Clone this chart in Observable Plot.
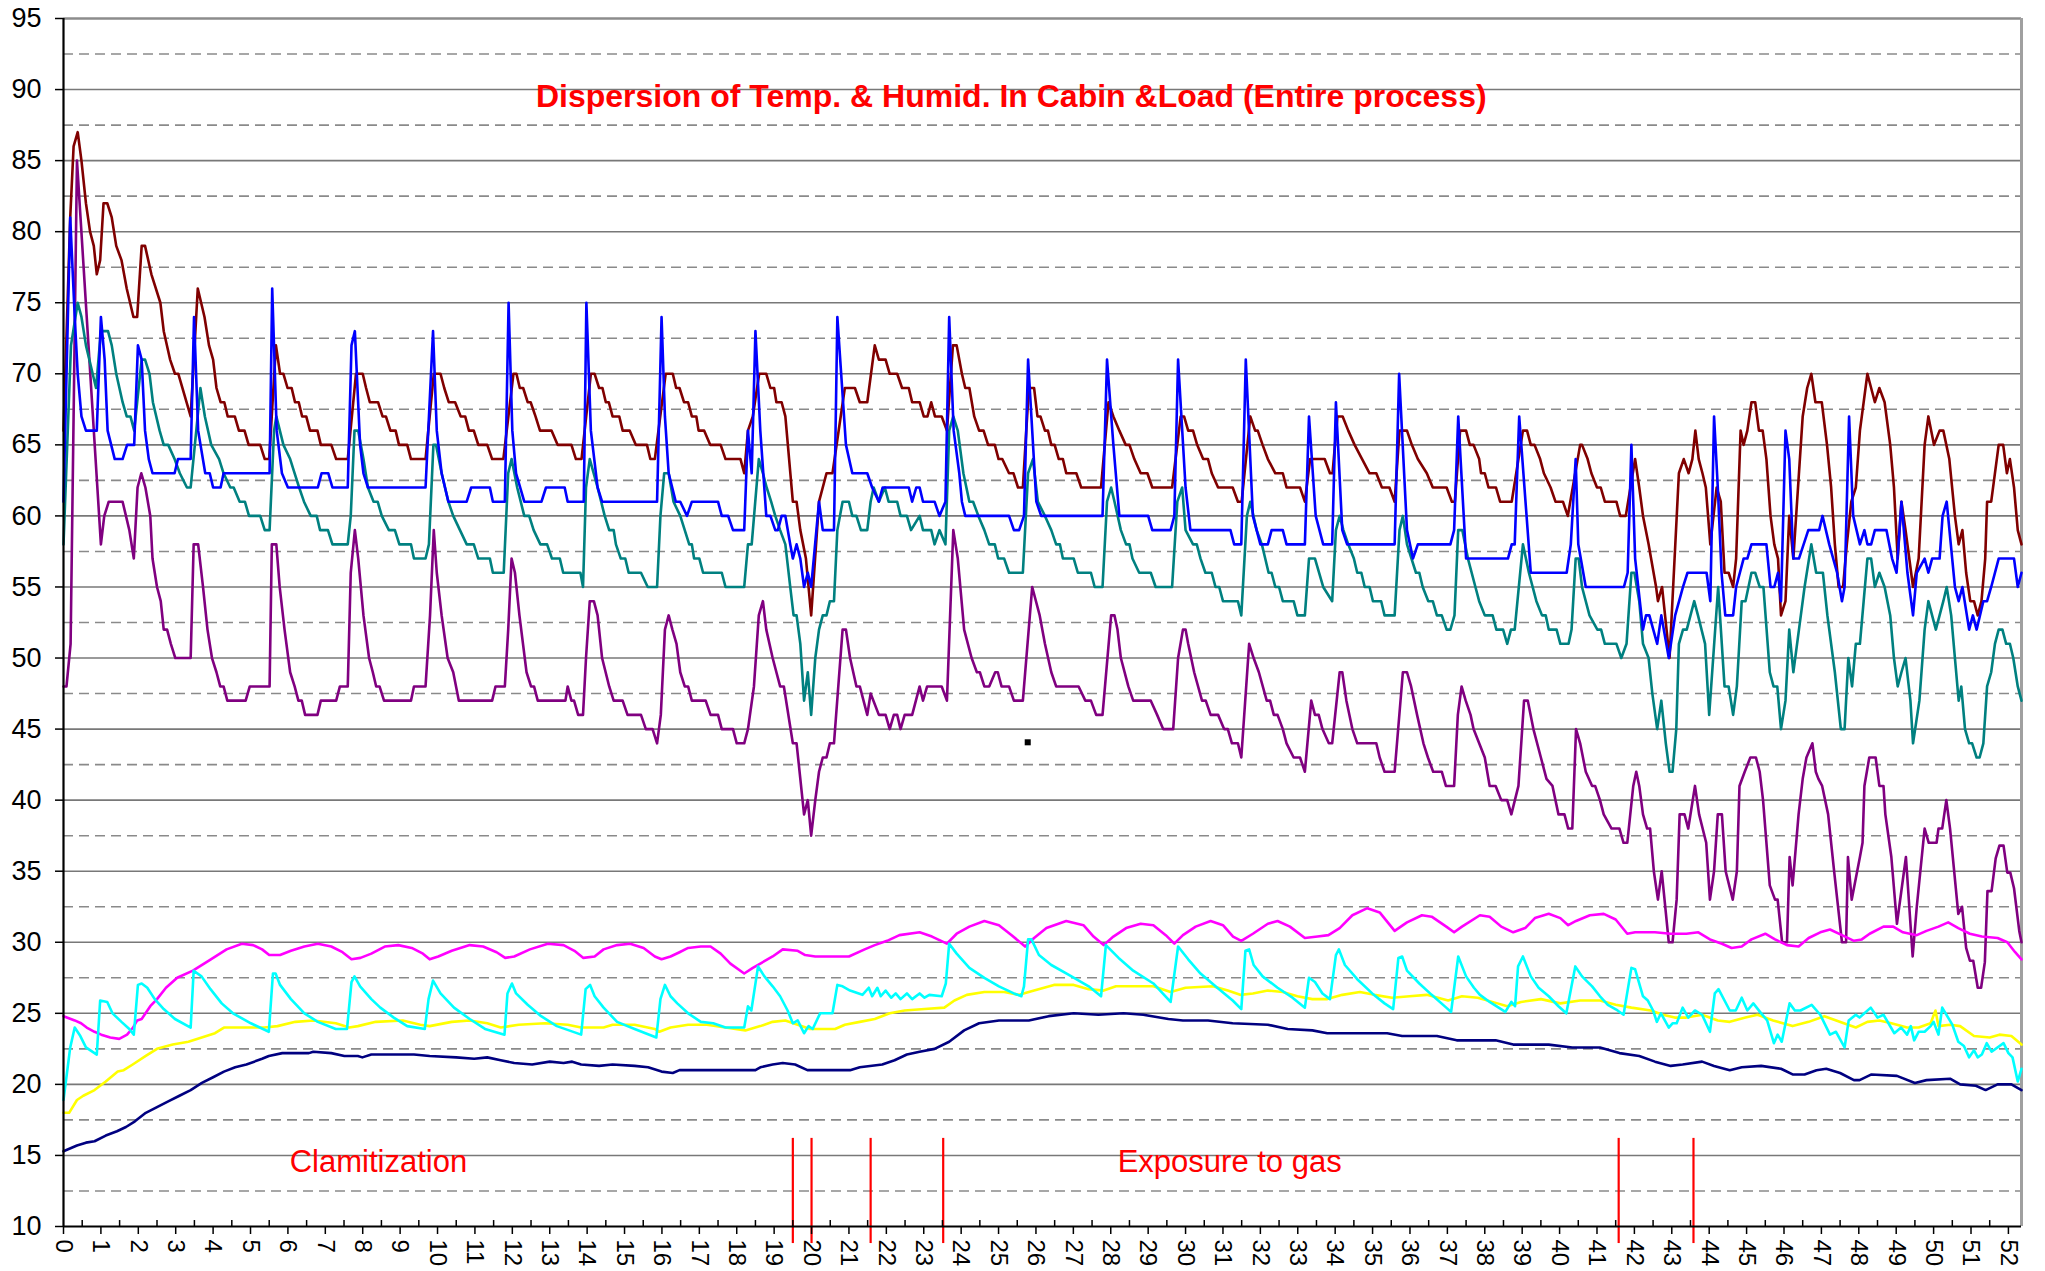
<!DOCTYPE html>
<html><head><meta charset="utf-8">
<script src="https://cdn.jsdelivr.net/npm/d3@7"></script>
<script src="https://cdn.jsdelivr.net/npm/@observablehq/plot@0.6"></script>
<style>html,body{margin:0;padding:0;background:#fff;} #chart svg{display:block}</style>
</head><body><div id="chart"></div>
<script>
const xTicks = d3.range(0, 53);
const yTicks = d3.range(10, 96, 5);
const yDashed = d3.range(12.5, 95, 5);
const xMinorTicks = d3.range(0.5, 52.5, 1);
const phaseLines = [19.5, 20.0, 21.58, 23.52, 41.58, 43.58];
const notes = [
  {text: "Dispersion of Temp. & Humid. In Cabin &Load (Entire process)", x: 25.34, y: 89.5, bold: true, size: 32},
  {text: "Clamitization", x: 8.42, y: 14.5, bold: false, size: 31},
  {text: "Exposure to gas", x: 31.18, y: 14.5, bold: false, size: 31}
];
const stray = [[25.78, 44.07]];

const red = [[0,66],[0.18,81],[0.27,86],[0.38,87],[0.48,85],[0.6,82],[0.71,80],[0.81,79],[0.89,77],[0.98,78],[1.07,82],[1.17,82],[1.29,81],[1.41,79],[1.55,78],[1.69,76],[1.87,74],[1.97,74],[2.09,79],[2.18,79],[2.35,77],[2.59,75],[2.68,73],[2.85,71],[2.98,70],[3.07,70],[3.4,67],[3.59,76],[3.77,74],[3.89,72],[4.0,71],[4.09,69],[4.2,68],[4.3,68],[4.39,67],[4.58,67],[4.69,66],[4.84,66],[4.95,65],[5.26,65],[5.38,64],[5.5,64],[5.68,72],[5.79,70],[5.88,70],[5.99,69],[6.1,69],[6.19,68],[6.29,68],[6.38,67],[6.49,67],[6.59,66],[6.79,66],[6.88,65],[7.16,65],[7.29,64],[7.6,64],[7.82,70],[8.0,70],[8.09,69],[8.19,68],[8.41,68],[8.53,67],[8.62,67],[8.74,66],[8.88,66],[8.97,65],[9.19,65],[9.29,64],[9.68,64],[9.9,70],[10.08,70],[10.18,69],[10.3,68],[10.47,68],[10.62,67],[10.74,67],[10.84,66],[10.97,66],[11.09,65],[11.33,65],[11.46,64],[11.76,64],[12.03,70],[12.11,70],[12.2,69],[12.29,69],[12.41,68],[12.49,68],[12.62,67],[12.74,66],[13.05,66],[13.21,65],[13.58,65],[13.7,64],[13.85,64],[14.1,70],[14.2,70],[14.32,69],[14.41,69],[14.5,68],[14.58,68],[14.68,67],[14.86,67],[14.95,66],[15.14,66],[15.3,65],[15.6,65],[15.69,64],[15.81,64],[16.1,70],[16.29,70],[16.38,69],[16.47,69],[16.59,68],[16.7,68],[16.8,67],[16.92,67],[16.98,66],[17.13,66],[17.29,65],[17.57,65],[17.7,64],[18.1,64],[18.2,63],[18.3,66],[18.43,67],[18.6,70],[18.79,70],[18.9,69],[19.0,69],[19.06,68],[19.2,68],[19.3,67],[19.5,61],[19.6,61],[19.7,59],[19.85,57],[19.99,53],[20.2,61],[20.4,63],[20.56,63],[20.89,69],[21.16,69],[21.29,68],[21.49,68],[21.69,72],[21.8,71],[21.98,71],[22.09,70],[22.29,70],[22.42,69],[22.6,69],[22.69,68],[22.89,68],[23.0,67],[23.1,67],[23.2,68],[23.3,67],[23.48,67],[23.62,66],[23.78,72],[23.88,72],[24.02,70],[24.11,69],[24.22,69],[24.35,67],[24.48,66],[24.6,66],[24.72,65],[24.9,65],[25.0,64],[25.1,64],[25.28,63],[25.4,63],[25.52,62],[25.65,62],[25.81,69],[25.95,69],[26.04,67],[26.12,67],[26.24,66],[26.32,66],[26.41,65],[26.5,65],[26.61,64],[26.72,64],[26.81,63],[27.08,63],[27.21,62],[27.74,62],[27.94,68],[28.07,67],[28.23,66],[28.4,65],[28.5,65],[28.63,64],[28.8,63],[28.98,63],[29.11,62],[29.64,62],[29.87,67],[29.96,67],[30.07,66],[30.2,66],[30.31,65],[30.47,64],[30.6,64],[30.7,63],[30.87,62],[31.26,62],[31.4,61],[31.5,61],[31.73,67],[31.86,66],[31.93,66],[32.06,65],[32.2,64],[32.4,63],[32.6,63],[32.7,62],[33.06,62],[33.19,61],[33.33,64],[33.72,64],[33.86,63],[33.93,63],[34.06,67],[34.2,67],[34.35,66],[34.52,65],[34.72,64],[34.92,63],[35.1,63],[35.25,62],[35.45,62],[35.59,61],[35.72,66],[35.92,66],[36.05,65],[36.21,64],[36.45,63],[36.61,62],[36.98,62],[37.12,61],[37.2,61],[37.34,66],[37.5,66],[37.6,65],[37.7,65],[37.85,64],[37.9,63],[38.0,63],[38.1,62],[38.3,62],[38.41,61],[38.72,61],[39.02,66],[39.13,66],[39.23,65],[39.33,65],[39.48,64],[39.58,63],[39.76,62],[39.89,61],[40.09,61],[40.22,60],[40.55,65],[40.6,65],[40.75,64],[40.85,63],[41.0,62],[41.1,62],[41.21,61],[41.52,61],[41.62,60],[41.77,60],[42.02,64],[42.13,62],[42.23,60],[42.38,58],[42.58,55],[42.63,54],[42.74,55],[42.94,50],[43.19,63],[43.32,64],[43.45,63],[43.55,64],[43.63,66],[43.72,64],[43.82,63],[43.91,62],[44.03,58],[44.2,62],[44.31,61],[44.41,56],[44.52,56],[44.64,55],[44.72,57],[44.84,66],[44.92,65],[45.02,66],[45.13,68],[45.23,68],[45.33,66],[45.43,66],[45.53,64],[45.64,60],[45.74,58],[45.84,57],[45.92,53],[46.04,54],[46.14,60],[46.25,57],[46.5,67],[46.62,69],[46.73,70],[46.84,68],[47.01,68],[47.15,65],[47.26,62],[47.36,58],[47.46,55],[47.58,55],[47.68,58],[47.8,61],[47.92,62],[48.03,66],[48.23,70],[48.43,68],[48.55,69],[48.69,68],[48.84,65],[48.94,62],[49.04,57],[49.14,61],[49.25,59],[49.45,55],[49.6,57],[49.76,65],[49.86,67],[50.01,65],[50.16,66],[50.26,66],[50.42,64],[50.57,60],[50.67,58],[50.77,59],[50.87,56],[50.98,54],[51.08,54],[51.18,53],[51.28,54],[51.38,57],[51.43,61],[51.54,61],[51.74,65],[51.86,65],[51.96,63],[52.04,64],[52.15,62],[52.25,59],[52.35,58]];

const blue = [[0,61],[0.18,81],[0.3,74],[0.38,70],[0.48,67],[0.6,66],[0.89,66],[1.0,74],[1.1,71],[1.18,66],[1.37,64],[1.58,64],[1.7,65],[1.89,65],[1.99,72],[2.09,71],[2.18,66],[2.28,64],[2.38,63],[2.97,63],[3.06,64],[3.4,64],[3.49,74],[3.6,66],[3.79,63],[3.91,63],[4.0,62],[4.2,62],[4.28,63],[5.51,63],[5.58,76],[5.7,66],[5.84,63],[6.0,62],[6.8,62],[6.9,63],[7.08,63],[7.19,62],[7.6,62],[7.7,72],[7.79,73],[7.93,65],[8.02,63],[8.14,62],[9.68,62],[9.88,73],[9.98,66],[10.11,63],[10.29,61],[10.78,61],[10.9,62],[11.4,62],[11.48,61],[11.8,61],[11.9,75],[12.0,66],[12.1,63],[12.32,61],[12.78,61],[12.9,62],[13.4,62],[13.48,61],[13.91,61],[13.98,75],[14.1,66],[14.28,62],[14.4,61],[15.87,61],[15.99,74],[16.08,67],[16.18,63],[16.37,61],[16.49,61],[16.67,60],[16.8,61],[17.5,61],[17.6,60],[17.77,60],[17.9,59],[18.2,59],[18.3,66],[18.4,63],[18.5,73],[18.63,66],[18.79,60],[18.9,60],[19.03,59],[19.1,59],[19.2,60],[19.3,60],[19.43,58],[19.5,57],[19.6,58],[19.7,57],[19.8,55],[19.9,56],[19.99,55],[20.2,61],[20.3,59],[20.6,59],[20.69,74],[20.92,65],[21.09,63],[21.49,63],[21.62,62],[21.8,61],[21.9,62],[22.6,62],[22.69,61],[22.8,62],[22.89,62],[22.98,61],[23.29,61],[23.42,60],[23.58,61],[23.68,74],[23.8,66],[23.95,63],[24.02,61],[24.11,60],[25.28,60],[25.41,59],[25.55,59],[25.68,60],[25.79,71],[26.01,61],[26.14,60],[27.78,60],[27.9,71],[28.07,65],[28.23,60],[29.0,60],[29.11,59],[29.6,59],[29.7,60],[29.8,71],[30.0,62],[30.13,59],[31.2,59],[31.3,58],[31.49,58],[31.61,71],[31.8,60],[32.0,58],[32.2,58],[32.3,59],[32.6,59],[32.7,58],[33.19,58],[33.3,67],[33.48,60],[33.68,58],[33.92,58],[34.02,68],[34.19,59],[34.32,58],[35.59,58],[35.71,70],[35.92,59],[36.08,57],[36.21,58],[37.08,58],[37.18,59],[37.29,67],[37.5,57],[38.62,57],[38.72,58],[38.8,58],[38.92,67],[39.23,56],[40.19,56],[40.3,58],[40.43,64],[40.5,58],[40.7,55],[41.72,55],[41.82,56],[41.92,65],[42.02,57],[42.23,52],[42.31,53],[42.4,53],[42.61,51],[42.72,53],[42.92,50],[43.09,53],[43.3,55],[43.42,56],[43.93,56],[44.03,54],[44.13,67],[44.23,62],[44.33,56],[44.43,53],[44.64,53],[44.72,55],[44.92,57],[45.02,57],[45.13,58],[45.53,58],[45.64,55],[45.74,55],[45.84,56],[45.92,54],[46.04,66],[46.14,64],[46.25,57],[46.4,57],[46.65,59],[46.94,59],[47.03,60],[47.21,58],[47.42,56],[47.55,54],[47.62,55],[47.74,67],[47.85,60],[48.03,58],[48.15,59],[48.23,58],[48.33,58],[48.43,59],[48.74,59],[48.89,57],[49.01,56],[49.14,61],[49.3,56],[49.45,53],[49.55,56],[49.76,57],[49.86,56],[49.96,57],[50.16,57],[50.24,60],[50.35,61],[50.57,55],[50.67,54],[50.77,55],[50.95,52],[51.05,53],[51.15,52],[51.33,54],[51.43,54],[51.54,55],[51.74,57],[52.15,57],[52.25,55],[52.35,56]];

const teal = [[0,58],[0.1,65],[0.2,72],[0.38,75],[0.48,74],[0.6,72],[0.78,70],[0.87,69],[1.0,73],[1.19,73],[1.29,72],[1.41,70],[1.58,68],[1.69,67],[1.79,67],[1.89,66],[1.97,68],[2.09,71],[2.18,71],[2.3,70],[2.39,68],[2.57,66],[2.68,65],[2.8,65],[2.97,64],[3.11,63],[3.3,62],[3.4,62],[3.55,66],[3.66,69],[3.78,67],[3.95,65],[4.16,64],[4.28,63],[4.46,62],[4.55,62],[4.71,61],[4.85,61],[4.96,60],[5.26,60],[5.38,59],[5.51,59],[5.63,66],[5.69,67],[5.88,65],[6.06,64],[6.18,63],[6.3,62],[6.43,61],[6.61,60],[6.77,60],[6.86,59],[7.07,59],[7.19,58],[7.6,58],[7.68,60],[7.78,66],[7.88,66],[8.02,64],[8.14,62],[8.29,61],[8.4,61],[8.51,60],[8.7,59],[8.86,59],[8.98,58],[9.29,58],[9.37,57],[9.68,57],[9.77,58],[9.89,65],[9.96,65],[10.11,63],[10.29,61],[10.42,60],[10.6,59],[10.78,58],[10.97,58],[11.09,57],[11.4,57],[11.48,56],[11.77,56],[11.89,63],[11.98,64],[12.13,62],[12.32,60],[12.45,60],[12.57,59],[12.75,58],[12.93,58],[13.06,57],[13.27,57],[13.36,56],[13.82,56],[13.89,55],[13.97,62],[14.07,64],[14.28,62],[14.47,60],[14.59,59],[14.71,59],[14.77,58],[14.9,57],[15.02,57],[15.11,56],[15.44,56],[15.62,55],[15.87,55],[15.96,60],[16.06,63],[16.18,63],[16.31,61],[16.49,60],[16.61,59],[16.73,58],[16.8,58],[16.86,57],[17.0,57],[17.1,56],[17.6,56],[17.7,55],[18.2,55],[18.3,58],[18.4,58],[18.59,64],[18.7,63],[18.8,62],[18.92,61],[19.03,60],[19.16,59],[19.3,58],[19.43,55],[19.52,53],[19.6,53],[19.7,51],[19.8,47],[19.9,49],[19.99,46],[20.1,50],[20.2,52],[20.3,53],[20.4,53],[20.49,54],[20.6,54],[20.69,59],[20.83,61],[21.0,61],[21.09,60],[21.2,60],[21.32,59],[21.49,59],[21.58,61],[21.66,62],[21.8,61],[21.96,62],[22.06,61],[22.29,61],[22.38,60],[22.55,60],[22.66,59],[22.89,60],[22.98,59],[23.2,59],[23.29,58],[23.42,59],[23.58,58],[23.68,66],[23.79,67],[23.91,66],[24.06,63],[24.22,61],[24.32,61],[24.46,60],[24.62,59],[24.75,58],[24.9,58],[24.99,57],[25.15,57],[25.28,56],[25.65,56],[25.79,63],[25.92,64],[26.05,61],[26.24,60],[26.41,59],[26.54,58],[26.64,58],[26.72,57],[27.01,57],[27.12,56],[27.47,56],[27.57,55],[27.78,55],[27.9,61],[28.01,62],[28.1,61],[28.27,59],[28.41,58],[28.5,58],[28.58,57],[28.76,56],[29.07,56],[29.2,55],[29.64,55],[29.78,61],[29.91,62],[30.0,59],[30.2,58],[30.3,58],[30.4,57],[30.53,56],[30.7,56],[30.8,55],[30.9,55],[31.0,54],[31.4,54],[31.49,53],[31.64,60],[31.73,61],[31.9,59],[32.04,58],[32.13,57],[32.22,56],[32.3,56],[32.4,55],[32.5,55],[32.6,54],[32.89,54],[32.99,53],[33.19,53],[33.3,57],[33.46,57],[33.68,55],[33.92,54],[34.02,59],[34.12,60],[34.22,59],[34.35,58],[34.5,57],[34.59,56],[34.7,56],[34.79,55],[34.92,55],[35.01,54],[35.23,54],[35.32,53],[35.59,53],[35.72,59],[35.81,60],[35.92,58],[36.16,56],[36.25,56],[36.34,55],[36.49,54],[36.61,54],[36.72,53],[36.85,53],[36.98,52],[37.08,52],[37.19,53],[37.29,59],[37.4,59],[37.55,57],[37.75,55],[37.85,54],[38.0,53],[38.21,53],[38.31,52],[38.49,52],[38.6,51],[38.7,52],[38.8,52],[39.02,58],[39.18,56],[39.38,54],[39.53,53],[39.63,53],[39.71,52],[39.92,52],[40.02,51],[40.24,51],[40.32,52],[40.43,57],[40.51,57],[40.6,55],[40.8,53],[41.01,52],[41.11,52],[41.21,51],[41.52,51],[41.65,50],[41.79,51],[41.92,56],[42.0,56],[42.13,54],[42.23,51],[42.38,50],[42.48,47.5],[42.61,45],[42.72,47],[42.84,44],[42.94,42],[43.02,42],[43.12,45],[43.19,51],[43.3,52],[43.4,52],[43.5,53],[43.6,54],[43.7,53],[43.89,51],[44.0,46],[44.24,55],[44.41,48],[44.52,48],[44.64,46],[44.74,48],[44.87,54],[44.97,54],[45.13,56],[45.23,56],[45.35,55],[45.45,55],[45.62,49],[45.72,48],[45.82,48],[45.92,45],[46.04,47],[46.14,52],[46.25,49],[46.4,52],[46.55,55],[46.73,58],[46.86,56],[47.04,56],[47.16,53],[47.36,49],[47.52,45],[47.62,45],[47.72,50],[47.82,48],[47.92,51],[48.03,51],[48.13,54],[48.23,57],[48.33,57],[48.43,55],[48.55,56],[48.69,55],[48.84,53],[48.94,50],[49.04,48],[49.14,49],[49.25,50],[49.38,47],[49.45,44],[49.62,47],[49.76,52],[49.86,54],[49.96,53],[50.06,52],[50.16,53],[50.26,54],[50.35,55],[50.47,53],[50.57,50],[50.67,47],[50.74,48],[50.84,45],[50.95,44],[51.03,44],[51.15,43],[51.23,43],[51.33,44],[51.43,48],[51.54,49],[51.64,51],[51.74,52],[51.84,52],[51.94,51],[52.04,51],[52.13,50],[52.25,48],[52.35,47]];

const purple = [[0,48],[0.08,48],[0.19,51],[0.36,85],[1.0,58],[1.09,60],[1.21,61],[1.58,61],[1.76,59],[1.88,57],[1.98,62],[2.08,63],[2.19,62],[2.32,60],[2.38,57],[2.5,55],[2.6,54],[2.68,52],[2.77,52],[2.87,51],[2.99,50],[3.4,50],[3.48,58],[3.6,58],[3.73,55],[3.85,52],[3.97,50],[4.09,49],[4.19,48],[4.28,48],[4.38,47],[4.87,47],[4.98,48],[5.51,48],[5.57,58],[5.69,58],[5.78,55],[5.91,52],[6.06,49],[6.18,48],[6.28,47],[6.37,47],[6.46,46],[6.79,46],[6.88,47],[7.29,47],[7.39,48],[7.6,48],[7.68,56],[7.79,59],[7.88,57],[8.02,53],[8.17,50],[8.27,49],[8.36,48],[8.45,48],[8.57,47],[9.29,47],[9.37,48],[9.68,48],[9.8,53],[9.9,59],[9.98,56],[10.11,53],[10.27,50],[10.42,49],[10.57,47],[11.46,47],[11.55,48],[11.8,48],[11.89,52],[11.98,57],[12.07,56],[12.19,53],[12.38,49],[12.5,48],[12.58,48],[12.68,47],[13.42,47],[13.48,48],[13.58,47],[13.65,47],[13.76,46],[13.89,46],[13.97,50],[14.07,54],[14.18,54],[14.28,53],[14.4,50],[14.59,48],[14.71,47],[14.95,47],[15.08,46],[15.44,46],[15.57,45],[15.75,45],[15.87,44],[15.97,46],[16.08,52],[16.18,53],[16.28,52],[16.39,51],[16.49,49],[16.61,48],[16.7,48],[16.8,47],[17.17,47],[17.3,46],[17.5,46],[17.6,45],[17.9,45],[18.0,44],[18.2,44],[18.3,45],[18.46,48],[18.59,53],[18.7,54],[18.79,52],[18.96,50],[19.16,48],[19.26,48],[19.5,44],[19.6,44],[19.8,39],[19.9,40],[19.99,37.5],[20.1,40],[20.2,42],[20.3,43],[20.4,43],[20.49,44],[20.6,44],[20.83,52],[20.92,52],[21.03,50],[21.2,48],[21.29,48],[21.49,46],[21.58,47.5],[21.8,46],[21.98,46],[22.09,45],[22.2,46],[22.29,46],[22.38,45],[22.49,46],[22.69,46],[22.89,48],[22.98,47],[23.09,48],[23.48,48],[23.62,47],[23.79,59],[23.91,57],[24.08,52],[24.28,50],[24.42,49],[24.5,49],[24.62,48],[24.75,48],[24.91,49],[24.98,49],[25.08,48],[25.28,48],[25.41,47],[25.65,47],[25.9,55],[26.1,53],[26.24,51],[26.41,49],[26.54,48],[27.14,48],[27.32,47],[27.47,47],[27.61,46],[27.78,46],[28.01,53],[28.1,53],[28.18,52],[28.27,50],[28.47,48],[28.6,47],[29.07,47],[29.24,46],[29.4,45],[29.67,45],[29.8,50],[29.93,52],[30.0,52],[30.07,51],[30.23,49],[30.44,47],[30.54,47],[30.67,46],[30.87,46],[31.03,45],[31.13,45],[31.24,44],[31.4,44],[31.49,43],[31.7,51],[31.82,50],[31.96,49],[32.17,47],[32.26,47],[32.36,46],[32.46,46],[32.6,45],[32.7,44],[32.89,43],[33.06,43],[33.19,42],[33.36,47],[33.46,46],[33.56,46],[33.66,45],[33.83,44],[33.92,44],[34.12,49],[34.19,49],[34.3,47],[34.46,45],[34.59,44],[35.1,44],[35.19,43],[35.32,42],[35.59,42],[35.81,49],[35.92,49],[36.03,48],[36.19,46],[36.36,44],[36.48,43],[36.62,42],[36.85,42],[36.96,41],[37.18,41],[37.28,46],[37.38,48],[37.49,47],[37.62,46],[37.7,45],[37.85,44],[38.0,43],[38.13,41],[38.29,41],[38.44,40],[38.6,40],[38.71,39],[38.9,41],[39.05,47],[39.15,47],[39.3,45],[39.5,43],[39.65,41.5],[39.81,41],[39.97,39],[40.13,39],[40.23,38],[40.34,38],[40.44,45],[40.55,44],[40.7,42],[40.87,41],[40.95,41],[41.08,40],[41.18,39],[41.39,38],[41.6,38],[41.71,37],[41.81,37],[41.97,41],[42.05,42],[42.13,41],[42.23,39],[42.34,38],[42.42,38],[42.52,35],[42.63,33],[42.73,35],[42.92,30],[43.02,30],[43.13,33],[43.21,39],[43.34,39],[43.44,38],[43.62,41],[43.73,39],[43.92,37],[44.02,33],[44.13,35],[44.23,39],[44.34,39],[44.44,35],[44.63,33],[44.74,35],[44.81,41],[44.95,42],[45.1,43],[45.25,43],[45.35,42],[45.44,40],[45.62,34],[45.76,33],[45.83,33],[45.95,30],[46.08,30],[46.15,36],[46.23,34],[46.39,39],[46.5,41.5],[46.6,43],[46.76,44],[46.85,42],[46.92,41.5],[47.02,41],[47.18,39],[47.34,35],[47.55,30],[47.66,30],[47.71,36],[47.81,33],[48.03,36],[48.1,37],[48.15,41],[48.28,43],[48.45,43],[48.55,41],[48.66,41],[48.71,39],[48.87,36],[49.02,31.3],[49.26,36],[49.44,29],[49.55,32.5],[49.76,38],[49.87,37],[50.08,37],[50.13,38],[50.23,38],[50.34,40],[50.44,38],[50.66,32],[50.76,32.5],[50.87,29.6],[50.97,28.7],[51.06,28.7],[51.18,26.8],[51.27,26.8],[51.37,28.6],[51.44,33.6],[51.55,33.6],[51.66,35.9],[51.76,36.8],[51.87,36.8],[51.97,34.9],[52.05,34.9],[52.15,33.8],[52.29,30.8],[52.35,30]];

const magenta = [[0,24.8],[0.3,24.5],[0.47,24.3],[0.62,24.0],[0.83,23.7],[1.01,23.5],[1.25,23.3],[1.49,23.2],[1.7,23.5],[1.86,24.0],[1.97,24.5],[2.09,24.6],[2.32,25.5],[2.5,26.0],[2.74,26.8],[3.04,27.5],[3.46,28.0],[3.94,28.8],[4.36,29.5],[4.77,29.9],[5.07,29.8],[5.31,29.5],[5.5,29.1],[5.79,29.1],[6.08,29.4],[6.44,29.7],[6.8,29.9],[7.16,29.7],[7.46,29.3],[7.7,28.8],[7.94,28.9],[8.23,29.2],[8.59,29.7],[8.95,29.8],[9.31,29.6],[9.61,29.2],[9.79,28.8],[10.02,29.0],[10.38,29.4],[10.86,29.8],[11.22,29.7],[11.58,29.3],[11.81,28.9],[12.05,29.0],[12.47,29.5],[12.95,29.9],[13.37,29.8],[13.66,29.4],[13.9,28.9],[14.2,29.0],[14.44,29.5],[14.8,29.8],[15.15,29.9],[15.51,29.6],[15.81,29.0],[15.99,28.8],[16.23,29.0],[16.47,29.3],[16.7,29.6],[17.04,29.7],[17.3,29.7],[17.57,29.2],[17.83,28.5],[18.2,27.8],[18.43,28.2],[18.63,28.5],[18.96,29.0],[19.23,29.5],[19.63,29.4],[19.83,29.1],[20.1,29.0],[21.0,29.0],[21.42,29.5],[21.69,29.8],[22.02,30.1],[22.35,30.5],[22.89,30.7],[23.22,30.4],[23.62,29.9],[23.88,30.6],[24.22,31.1],[24.62,31.5],[25.01,31.2],[25.35,30.5],[25.71,29.7],[25.95,30.3],[26.28,31.0],[26.81,31.5],[27.27,31.2],[27.54,30.4],[27.81,29.8],[28.07,30.4],[28.41,31.0],[28.8,31.3],[29.14,31.2],[29.47,30.5],[29.7,29.9],[29.93,30.5],[30.27,31.1],[30.67,31.5],[31.0,31.2],[31.27,30.4],[31.49,30.1],[31.8,30.6],[32.2,31.3],[32.46,31.5],[32.79,31.1],[33.19,30.3],[33.53,30.4],[33.82,30.5],[34.12,31.0],[34.46,31.9],[34.86,32.4],[35.19,32.1],[35.59,30.8],[35.92,31.4],[36.32,31.9],[36.58,31.8],[36.97,31.1],[37.18,30.7],[37.39,31.1],[37.87,31.9],[38.13,31.8],[38.44,31.1],[38.76,30.7],[39.08,31.0],[39.34,31.7],[39.71,32.0],[40.02,31.7],[40.23,31.2],[40.44,31.5],[40.81,31.9],[41.18,32.0],[41.5,31.6],[41.81,30.6],[42.02,30.7],[42.55,30.7],[42.97,30.6],[43.39,30.6],[43.71,30.7],[44.02,30.2],[44.34,29.9],[44.6,29.6],[44.87,29.7],[45.13,30.2],[45.5,30.6],[45.76,30.2],[46.08,29.8],[46.39,29.7],[46.66,30.3],[46.97,30.7],[47.23,30.9],[47.55,30.5],[47.87,30.1],[48.08,30.2],[48.29,30.6],[48.66,31.1],[48.92,31.1],[49.18,30.7],[49.55,30.5],[49.81,30.8],[50.13,31.1],[50.39,31.4],[50.66,31.0],[50.97,30.6],[51.29,30.4],[51.71,30.3],[51.97,30.0],[52.18,29.3],[52.35,28.8]];

const cyan = [[0,18.9],[0.18,22.6],[0.3,24.0],[0.45,23.4],[0.6,22.6],[0.77,22.3],[0.89,22.1],[0.98,25.9],[1.17,25.8],[1.31,25.0],[1.55,24.4],[1.76,23.9],[1.88,23.5],[1.99,27.0],[2.09,27.1],[2.24,26.8],[2.44,26.0],[2.68,25.3],[2.98,24.6],[3.4,24.0],[3.48,28.0],[3.69,27.6],[3.93,26.7],[4.23,25.7],[4.53,25.0],[5.01,24.3],[5.49,23.7],[5.6,27.8],[5.67,27.8],[5.79,27.0],[6.08,26.0],[6.44,25.0],[6.8,24.4],[7.28,23.9],[7.58,23.9],[7.7,27.2],[7.78,27.6],[7.93,26.9],[8.23,26.0],[8.47,25.4],[8.83,24.7],[9.19,24.1],[9.66,23.9],[9.76,26.0],[9.88,27.3],[10.08,26.4],[10.44,25.4],[10.86,24.6],[11.27,23.9],[11.79,23.5],[11.87,26.4],[11.99,27.1],[12.1,26.4],[12.41,25.6],[12.77,24.8],[13.19,24.1],[13.84,23.5],[13.96,26.7],[14.08,27.0],[14.2,26.2],[14.44,25.4],[14.8,24.4],[15.27,23.9],[15.85,23.3],[15.96,26.0],[16.08,27.0],[16.23,26.2],[16.41,25.7],[16.7,25.0],[17.04,24.4],[17.37,24.3],[17.7,24.0],[18.2,24.0],[18.3,25.5],[18.39,25.2],[18.57,28.3],[18.74,27.6],[18.96,26.9],[19.16,26.2],[19.36,25.2],[19.5,24.3],[19.63,24.5],[19.8,23.6],[19.92,24.1],[20.03,23.9],[20.23,25.0],[20.56,25.0],[20.69,27.0],[20.83,26.9],[21.03,26.6],[21.36,26.3],[21.53,26.8],[21.62,26.2],[21.76,26.8],[21.85,26.2],[21.98,26.6],[22.13,26.1],[22.25,26.4],[22.38,26.0],[22.55,26.4],[22.69,26.0],[22.89,26.4],[23.02,26.1],[23.15,26.3],[23.48,26.2],[23.59,27.1],[23.68,29.9],[23.88,29.2],[24.22,28.2],[24.62,27.5],[25.01,26.9],[25.41,26.4],[25.61,26.2],[25.68,26.9],[25.79,30.2],[25.88,30.2],[26.08,29.1],[26.41,28.4],[26.88,27.7],[27.41,26.9],[27.74,26.2],[27.87,29.8],[28.21,28.9],[28.6,28.0],[29.14,27.1],[29.6,25.8],[29.8,29.7],[30.07,28.8],[30.4,27.8],[30.8,26.9],[31.26,25.9],[31.49,25.3],[31.6,29.4],[31.7,29.5],[31.82,28.4],[32.06,27.6],[32.46,26.8],[32.86,26.1],[33.19,25.4],[33.3,27.5],[33.46,27.2],[33.66,26.4],[33.86,26.0],[34.02,29.1],[34.1,29.5],[34.26,28.4],[34.59,27.4],[34.99,26.4],[35.32,25.7],[35.55,25.3],[35.69,28.9],[35.79,29.0],[35.92,28.0],[36.25,27.1],[36.58,26.3],[36.97,25.4],[37.1,25.1],[37.29,29.0],[37.5,27.6],[37.71,26.8],[37.87,26.3],[38.13,25.8],[38.55,25.1],[38.71,25.8],[38.81,25.5],[38.89,28.3],[39.02,29.0],[39.23,27.6],[39.44,26.8],[39.71,26.2],[39.97,25.5],[40.18,25.0],[40.42,28.3],[40.6,27.6],[40.87,26.9],[41.08,26.2],[41.29,25.6],[41.55,25.2],[41.71,24.9],[41.92,28.2],[42.02,28.1],[42.23,26.2],[42.36,25.9],[42.5,25.2],[42.6,24.4],[42.71,25.0],[42.92,24.0],[43.02,24.3],[43.13,24.3],[43.29,25.4],[43.44,24.7],[43.62,25.2],[43.81,24.9],[44.02,23.7],[44.15,26.4],[44.25,26.7],[44.55,25.2],[44.71,25.2],[44.87,26.1],[45.02,25.2],[45.18,25.7],[45.39,25.0],[45.55,24.5],[45.73,22.9],[45.83,23.5],[45.94,23.0],[46.15,25.7],[46.29,25.2],[46.44,25.2],[46.74,25.6],[46.97,24.9],[47.23,23.5],[47.39,23.7],[47.62,22.6],[47.73,24.5],[47.92,24.9],[48.02,24.7],[48.32,25.4],[48.5,24.7],[48.66,24.9],[48.95,23.6],[49.13,24.0],[49.29,23.5],[49.39,24.1],[49.48,23.1],[49.6,23.7],[49.76,23.7],[49.92,24.1],[50.0,24.4],[50.13,23.5],[50.23,25.4],[50.5,24.2],[50.66,23.0],[50.81,22.7],[50.95,21.9],[51.08,22.4],[51.18,21.9],[51.29,22.1],[51.42,22.9],[51.55,22.3],[51.87,22.9],[52.0,22.2],[52.11,21.9],[52.25,20.2],[52.35,21.1]];

const yellow = [[0,18.0],[0.15,18.0],[0.36,18.9],[0.53,19.2],[0.83,19.6],[1.13,20.2],[1.45,20.9],[1.61,21.0],[1.85,21.4],[2.2,22.0],[2.5,22.5],[2.92,22.8],[3.34,23.0],[3.82,23.4],[4.05,23.6],[4.29,24.0],[5.37,24.0],[5.72,24.1],[6.2,24.4],[6.68,24.5],[7.28,24.3],[7.64,24.0],[7.87,24.1],[8.35,24.4],[9.07,24.5],[9.54,24.2],[9.79,24.1],[10.38,24.4],[10.86,24.5],[11.33,24.3],[11.69,24.0],[12.17,24.2],[12.88,24.3],[13.48,24.2],[13.84,24.0],[14.44,24.0],[14.68,24.2],[15.27,24.2],[15.81,23.9],[15.93,23.7],[16.23,24.0],[16.7,24.2],[17.2,24.2],[17.7,24.0],[18.23,23.8],[18.63,24.1],[18.96,24.4],[19.3,24.5],[19.63,24.2],[19.96,23.9],[20.63,23.9],[20.89,24.2],[21.29,24.4],[21.69,24.6],[22.09,25.0],[22.49,25.2],[23.02,25.3],[23.55,25.4],[23.82,25.9],[24.15,26.3],[24.62,26.5],[25.15,26.5],[25.55,26.3],[25.95,26.6],[26.48,27.0],[27.01,27.0],[27.41,26.7],[27.81,26.6],[28.14,26.9],[28.74,26.9],[29.14,26.9],[29.6,26.5],[30.0,26.8],[30.73,26.9],[31.13,26.6],[31.46,26.3],[31.8,26.4],[32.2,26.6],[32.6,26.5],[32.99,26.2],[33.39,26.0],[33.79,26.0],[34.19,26.3],[34.66,26.5],[35.05,26.3],[35.52,26.1],[35.99,26.2],[36.45,26.3],[37.02,25.9],[37.39,26.2],[37.81,26.1],[38.34,25.7],[38.6,25.5],[38.97,25.8],[39.5,26.0],[40.02,25.7],[40.55,25.9],[41.08,25.9],[41.5,25.6],[41.92,25.4],[42.44,25.2],[42.76,24.9],[43.08,24.7],[43.39,24.7],[43.81,24.9],[44.23,24.5],[44.55,24.4],[44.97,24.7],[45.29,24.9],[45.71,24.5],[46.23,24.1],[46.66,24.4],[47.08,24.8],[47.6,24.3],[47.92,24.0],[48.23,24.4],[48.55,24.5],[48.87,24.3],[49.29,24.0],[49.6,24.0],[49.92,24.3],[50.05,25.2],[50.13,24.1],[50.44,24.2],[50.71,24.1],[51.08,23.4],[51.5,23.3],[51.76,23.5],[52.08,23.4],[52.35,22.8]];

const navy = [[0,15.3],[0.36,15.7],[0.6,15.9],[0.83,16.0],[1.13,16.4],[1.43,16.7],[1.67,17.0],[1.91,17.4],[2.2,18.0],[2.5,18.4],[2.8,18.8],[3.1,19.2],[3.4,19.6],[3.7,20.1],[4.0,20.5],[4.29,20.9],[4.59,21.2],[4.89,21.4],[5.31,21.8],[5.49,22.0],[5.85,22.2],[6.56,22.2],[6.68,22.3],[7.16,22.2],[7.51,22.0],[7.87,22.0],[7.99,21.9],[8.23,22.1],[9.37,22.1],[9.79,22.0],[10.5,21.9],[10.98,21.8],[11.33,21.9],[11.69,21.7],[12.05,21.5],[12.53,21.4],[13.0,21.6],[13.37,21.5],[13.6,21.6],[13.84,21.4],[14.32,21.3],[14.68,21.4],[15.27,21.3],[15.63,21.2],[15.99,20.9],[16.29,20.8],[16.47,21.0],[18.5,21.0],[18.63,21.2],[18.96,21.4],[19.23,21.5],[19.56,21.4],[19.89,21.0],[21.03,21.0],[21.29,21.2],[21.89,21.4],[22.22,21.7],[22.55,22.1],[22.89,22.3],[23.29,22.5],[23.68,23.0],[24.08,23.8],[24.48,24.3],[25.01,24.5],[25.81,24.5],[26.34,24.8],[27.01,25.0],[27.67,24.9],[28.34,25.0],[28.87,24.9],[29.54,24.6],[29.93,24.5],[30.6,24.5],[31.26,24.3],[32.2,24.2],[32.73,23.9],[33.39,23.8],[33.79,23.6],[34.46,23.6],[35.39,23.6],[35.79,23.4],[36.72,23.4],[37.25,23.1],[38.29,23.1],[38.76,22.8],[39.71,22.8],[40.34,22.6],[41.08,22.6],[41.6,22.2],[42.13,22.0],[42.55,21.6],[42.97,21.3],[43.29,21.4],[43.81,21.6],[44.13,21.3],[44.55,21.0],[44.87,21.2],[45.39,21.3],[45.92,21.1],[46.23,20.7],[46.55,20.7],[46.87,21.0],[47.13,21.1],[47.5,20.8],[47.87,20.3],[48.02,20.3],[48.34,20.7],[49.02,20.6],[49.5,20.1],[49.81,20.3],[50.44,20.4],[50.71,20.0],[51.13,19.9],[51.39,19.6],[51.71,20.0],[52.08,20.0],[52.35,19.6]];

const series = [
  {data: purple, color: "#800080"},
  {data: teal, color: "#008080"},
  {data: red, color: "#800000"},
  {data: blue, color: "#0000FF"},
  {data: magenta, color: "#FF00FF"},
  {data: yellow, color: "#FFFF00"},
  {data: cyan, color: "#00FFFF"},
  {data: navy, color: "#000080"}
];

const font = "'Liberation Sans', Arial, Helvetica, sans-serif";
const xMax = 52.35, yMin = 10, yMax = 95;

const chart = Plot.plot({
  width: 2045, height: 1271,
  marginLeft: 63, marginRight: 24, marginTop: 18, marginBottom: 45,
  style: {fontFamily: font, fontSize: "27px", color: "#000", background: "#fff", overflow: "visible"},
  x: {domain: [0, xMax]},
  y: {domain: [yMin, yMax]},
  marks: [
    Plot.ruleY(yTicks.filter(d => d > yMin && d < yMax), {stroke: "#787878", strokeWidth: 1.6}),
    Plot.ruleY(yDashed, {stroke: "#8a8a8a", strokeWidth: 1.6, strokeDasharray: "10,6"}),
    Plot.ruleY([yMax], {stroke: "#8c8c8c", strokeWidth: 2.5}),
    Plot.ruleX([xMax], {stroke: "#a0a0a0", strokeWidth: 3}),
    ...series.map(s => Plot.line(s.data, {x: d => d[0], y: d => d[1], stroke: s.color, strokeWidth: 2.6, strokeLinejoin: "round"})),
    Plot.dot(stray, {x: d => d[0], y: d => d[1], symbol: "square", r: 3.4, fill: "#000", stroke: null}),
    Plot.ruleX(phaseLines, {y1: 8.8, y2: 16.2, stroke: "#ff0000", strokeWidth: 2.2}),
    ...notes.map(n => Plot.text([n], {x: "x", y: "y", text: "text", fill: "#ff0000", fontSize: n.size, fontWeight: n.bold ? "bold" : "normal", textAnchor: "middle", lineAnchor: "middle"})),
    Plot.ruleX([0], {stroke: "#000", strokeWidth: 2.2}),
    Plot.ruleY([yMin], {stroke: "#000", strokeWidth: 2.2}),
    Plot.ruleX(xMinorTicks, {y1: yMin, y2: yMin + 0.42, stroke: "#000", strokeWidth: 1.5}),
    Plot.axisX({ticks: xTicks, tickSize: 8, tickPadding: 5, tickRotate: 90, tickFormat: d => String(d), label: null, fontSize: 24, stroke: "#000", strokeWidth: 1.5}),
    Plot.axisY({ticks: yTicks, tickSize: 8, tickPadding: 14, tickFormat: d => String(d), label: null, fontSize: 27, stroke: "#000", strokeWidth: 1.5})
  ]
});
document.getElementById("chart").appendChild(chart);
</script>
</body></html>
